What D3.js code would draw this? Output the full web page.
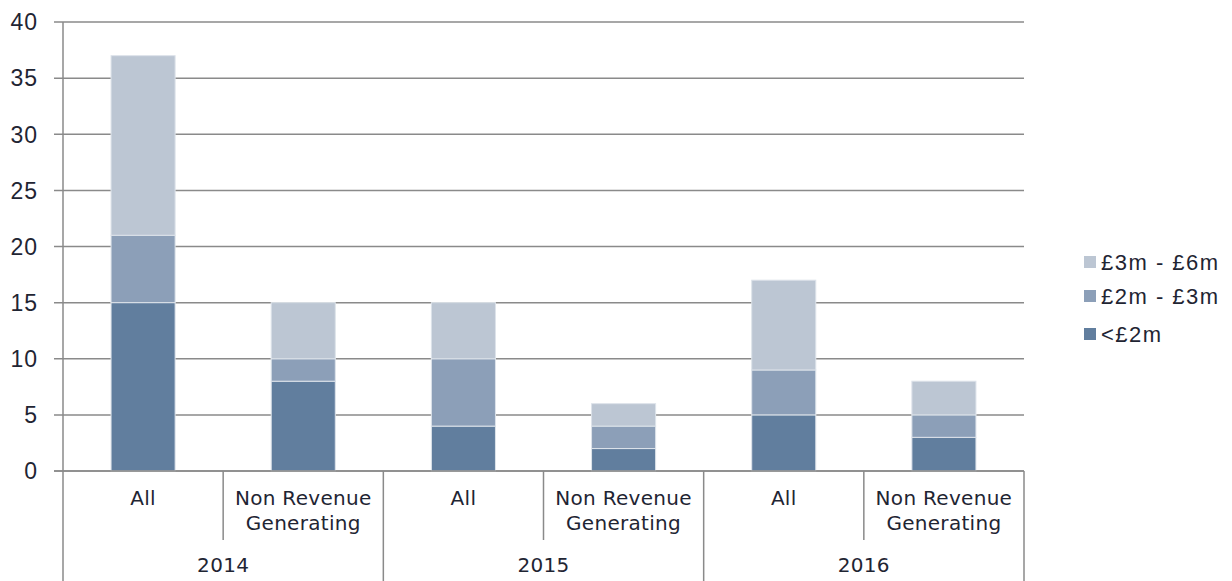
<!DOCTYPE html>
<html><head><meta charset="utf-8">
<script src="https://cdn.jsdelivr.net/npm/d3@7"></script>
<style>body{margin:0;background:#fff}</style>
</head><body><svg id="c" width="1232" height="581"></svg>
<script>
const years = ["2014","2015","2016"];
const subcats = ["All","Non Revenue Generating"];
const seriesNames = ["<£2m","£2m - £3m","£3m - £6m"];
const under2m = [15, 8, 4, 2, 5, 3];
const from2to3m = [6, 2, 6, 2, 4, 2];
const from3to6m = [16, 5, 5, 2, 8, 3];
const yTicks = [0,5,10,15,20,25,30,35,40];
const colors = ["#617e9e","#8c9fb8","#bcc6d3"];

const rows = [];
years.forEach((y,i)=>subcats.forEach((s,j)=>{
  const k=i*2+j;
  rows.push({key:y+"|"+s, year:y, sub:s, "<£2m":under2m[k], "£2m - £3m":from2to3m[k], "£3m - £6m":from3to6m[k]});
}));

const svg = d3.select("#c");
const L=63, R=1024, T=22, B=471;
const x = d3.scaleBand().domain(rows.map(r=>r.key)).range([L,R]).paddingInner(0.6).paddingOuter(0.3);
const slot = d3.scaleBand().domain(rows.map(r=>r.key)).range([L,R]);
const yr = d3.scaleBand().domain(years).range([L,R]);
const y = d3.scaleLinear().domain([0,40]).range([B,T]);

// gridlines
svg.append("g").selectAll("line").data(yTicks).join("line")
  .attr("x1",L-9).attr("x2",R).attr("y1",d=>y(d)).attr("y2",d=>y(d))
  .attr("stroke","#8a8a8a").attr("stroke-width",1.5);
// y labels
svg.append("g").selectAll("text").data(yTicks).join("text")
  .attr("x",38).attr("y",d=>y(d)).attr("dy","0.36em").attr("text-anchor","end")
  .attr("font-family","Liberation Sans, Arial, sans-serif").attr("font-size",23)
  .attr("letter-spacing",1).attr("fill","#1f2533")
  .text(d=>d);

// bars
const stack = d3.stack().keys(seriesNames)(rows);
svg.append("g").selectAll("g").data(stack).join("g").attr("fill",(d,i)=>colors[i])
  .selectAll("rect").data(d=>d).join("rect")
  .attr("x",d=>x(d.data.key)).attr("width",x.bandwidth())
  .attr("y",d=>y(d[1])).attr("height",d=>y(d[0])-y(d[1]))
  .attr("stroke","#dde3ea").attr("stroke-width",1);

// axes lines
svg.append("line").attr("x1",L).attr("x2",L).attr("y1",T).attr("y2",581).attr("stroke","#8a8a8a").attr("stroke-width",1.5);
svg.append("line").attr("x1",L-9).attr("x2",R).attr("y1",B).attr("y2",B).attr("stroke","#8a8a8a").attr("stroke-width",1.5);
// sub separators
svg.append("g").selectAll("line").data(years).join("line")
  .attr("x1",d=>yr(d)+yr.bandwidth()/2).attr("x2",d=>yr(d)+yr.bandwidth()/2)
  .attr("y1",B).attr("y2",540).attr("stroke","#8a8a8a").attr("stroke-width",1.5);
// year separators
svg.append("g").selectAll("line").data(years).join("line")
  .attr("x1",d=>yr(d)+yr.bandwidth()).attr("x2",d=>yr(d)+yr.bandwidth())
  .attr("y1",B).attr("y2",581).attr("stroke","#8a8a8a").attr("stroke-width",1.5);

// category labels
const catFont = "DejaVu Sans, sans-serif";
const cl = svg.append("g").selectAll("text").data(rows).join("text")
  .attr("text-anchor","middle").attr("font-family",catFont).attr("font-size",20)
  .attr("letter-spacing",0.3).attr("fill","#1f2533");
cl.each(function(d){
  const cx = slot(d.key)+slot.bandwidth()/2;
  const words = d.sub==="All" ? ["All"] : ["Non Revenue","Generating"];
  const t = d3.select(this);
  words.forEach((w,i)=>t.append("tspan").attr("x",cx).attr("y",505+i*25).text(w));
});
svg.append("g").selectAll("text").data(years).join("text")
  .attr("x",d=>yr(d)+yr.bandwidth()/2).attr("y",572).attr("text-anchor","middle")
  .attr("font-family",catFont).attr("font-size",20).attr("letter-spacing",0.3)
  .attr("fill","#1f2533").text(d=>d);

// legend
const legY = {"£3m - £6m":262,"£2m - £3m":296,"<£2m":334};
const lg = svg.append("g").selectAll("g").data(seriesNames.slice().reverse()).join("g")
  .attr("transform",d=>`translate(1084,${legY[d]})`);
lg.append("rect").attr("x",0).attr("y",-6).attr("width",12).attr("height",12)
  .attr("fill",d=>colors[seriesNames.indexOf(d)]);
lg.append("text").attr("x",17).attr("dy","0.36em")
  .attr("font-family","Liberation Sans, Arial, sans-serif").attr("font-size",22)
  .attr("letter-spacing",1.5).attr("fill","#1f2533").text(d=>d);
</script></body></html>
